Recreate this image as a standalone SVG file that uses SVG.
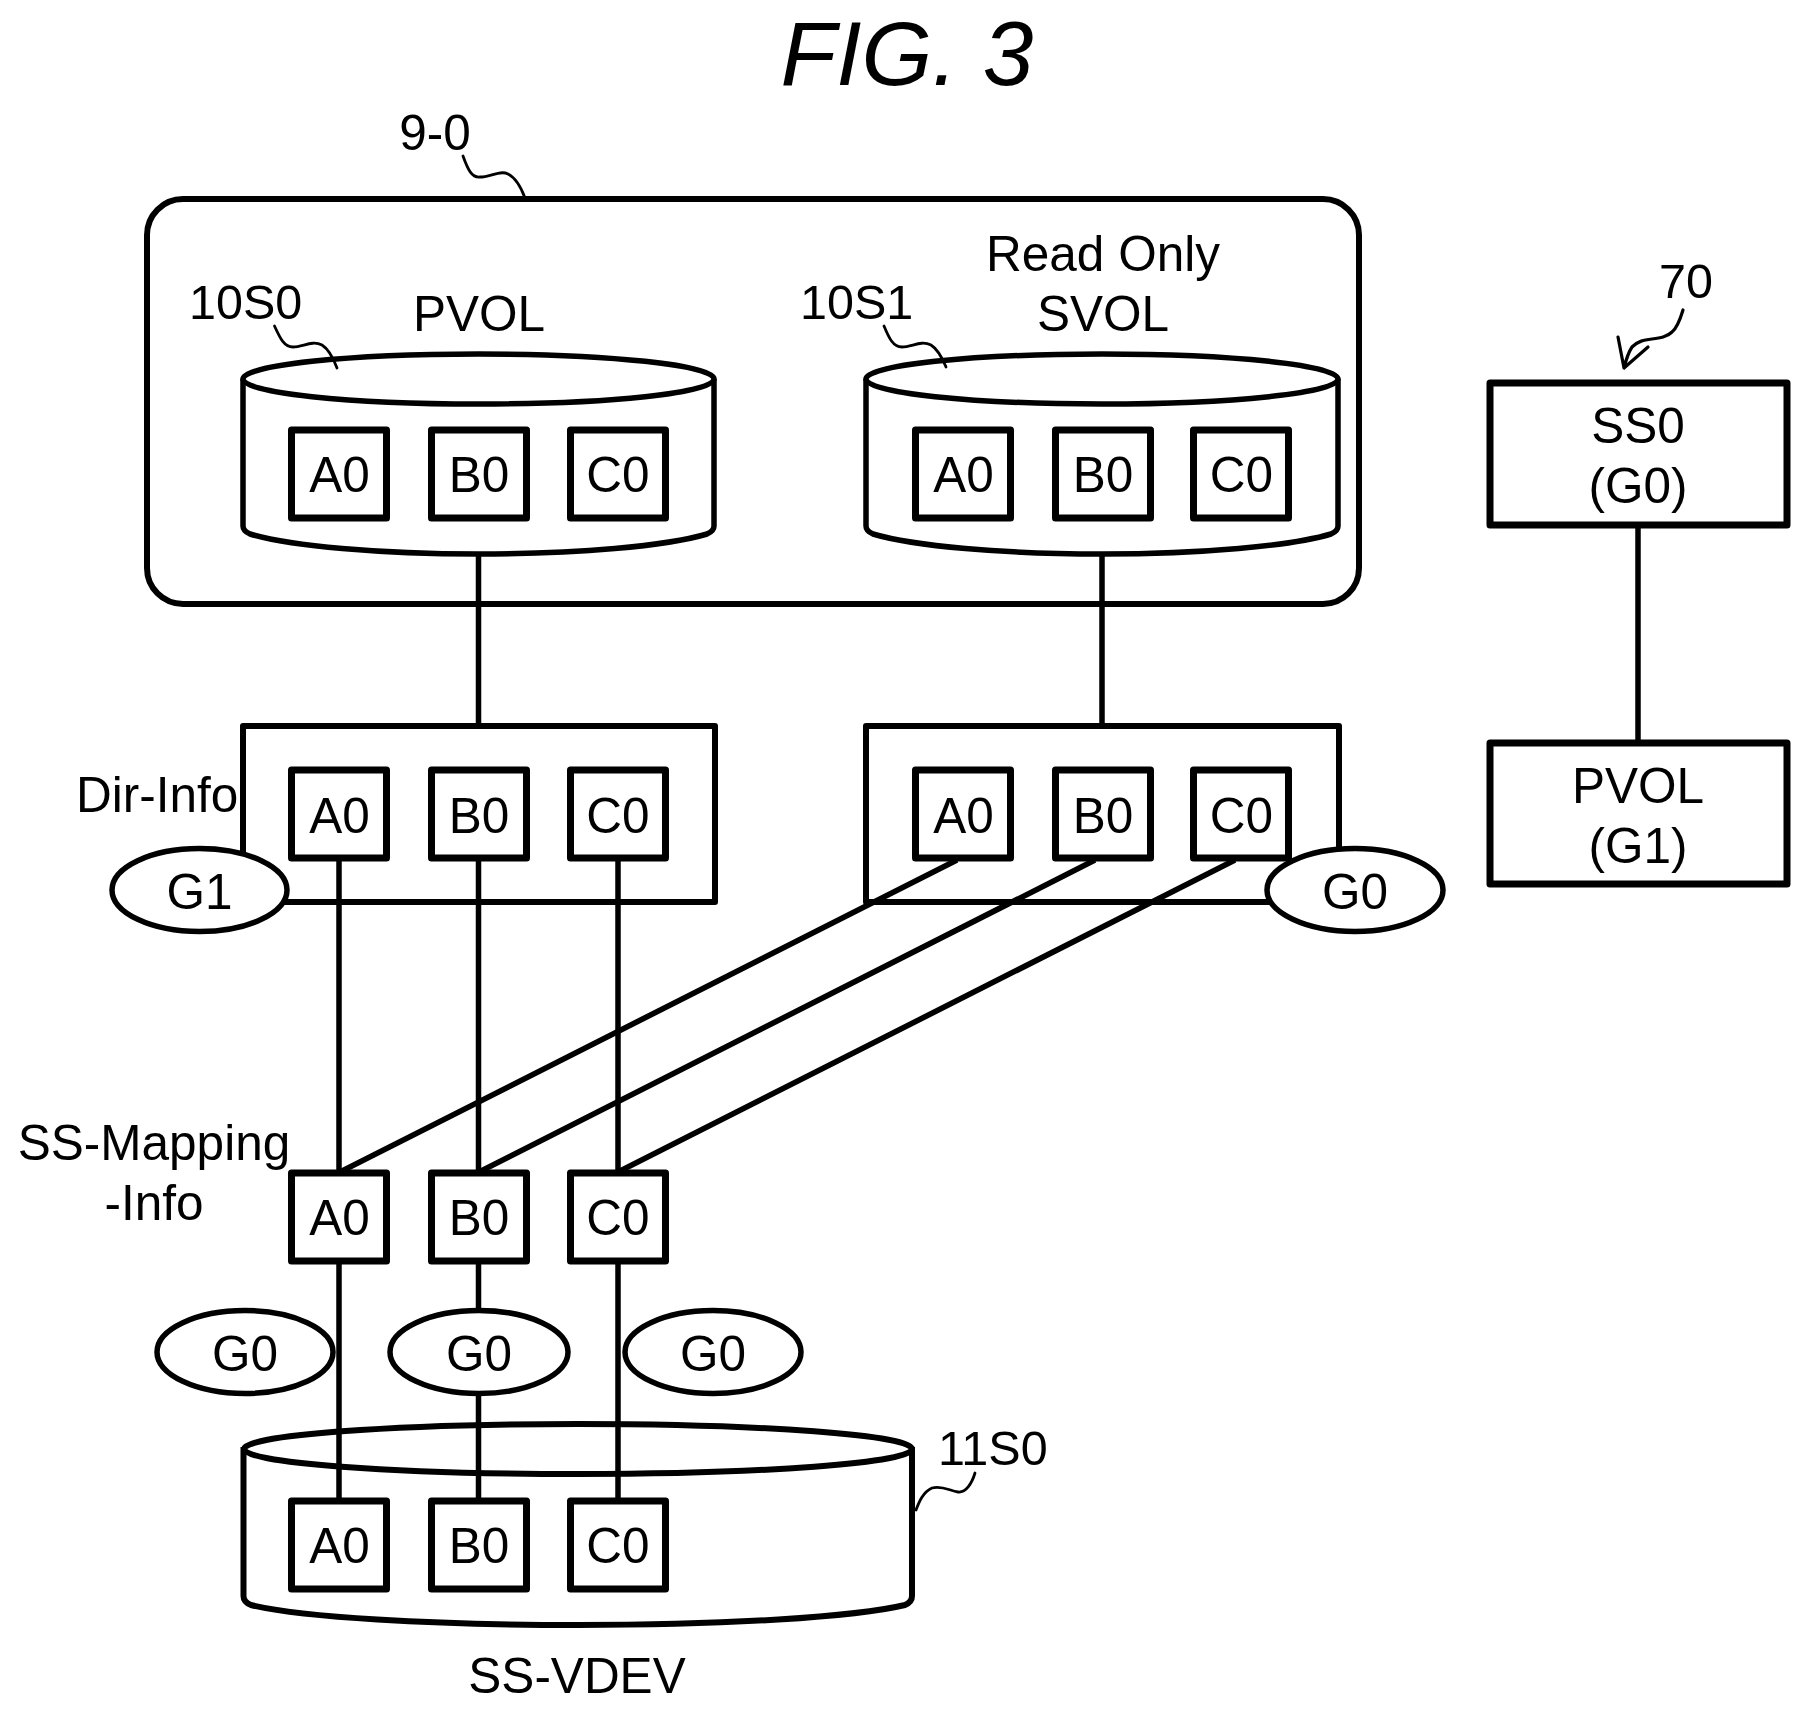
<svg xmlns="http://www.w3.org/2000/svg" width="1809" height="1715" viewBox="0 0 1809 1715">
<style>
text{font-family:"Liberation Sans",Arial,sans-serif;font-size:49.5px;fill:#000}
.m{text-anchor:middle}
.r{font-size:48.5px}
.s{fill:#fff;stroke:#000;stroke-width:5.5;stroke-linejoin:round}
.n{fill:none;stroke:#000;stroke-width:6;stroke-linejoin:round}
.b{fill:#fff;stroke:#000;stroke-width:7;stroke-linejoin:round}
.c{fill:none;stroke:#000;stroke-width:5.5}
.d{fill:none;stroke:#000;stroke-width:5.6}
.l{fill:none;stroke:#000;stroke-width:2.8;stroke-linecap:round;stroke-linejoin:round}
</style>
<rect width="1809" height="1715" fill="#fff"/>
<text id="title" x="907" y="85" class="m" style="font-size:91px;font-style:italic">FIG. 3</text>
<g id="vol-group-9-0"><rect class="n" x="147" y="199" width="1212" height="405" rx="36"/><text x="435" y="150" class="m">9-0</text></g>
<g id="cyl-10S0"><path class="s" d="M243,379V526Q243,531 250,534C290,546 380,554 478.5,554C577,554 667,546 707,534Q714,531 714,526V379"/><ellipse class="s" cx="478.5" cy="379" rx="235.5" ry="25"/><text x="479" y="331" class="m">PVOL</text></g>
<g id="cyl-10S1"><path class="s" d="M866,379V526Q866,531 873,534C913,546 1003,554 1102,554C1201,554 1291,546 1331,534Q1338,531 1338,526V379"/><ellipse class="s" cx="1102" cy="379" rx="236" ry="25"/><text x="1103" y="271" class="m">Read Only</text><text x="1103" y="331" class="m">SVOL</text></g>
<g id="dir-info-0"><rect class="n" x="243" y="726" width="472" height="176"/></g>
<g id="dir-info-1"><rect class="n" x="866" y="726" width="473" height="176"/></g>
<g id="cyl-11S0"><path class="n" d="M243.500,1447V1596Q243.500,1602 251,1605C300,1617 430,1625 578,1625C726,1625 855,1617 905,1605Q912,1602 912,1596V1447"/><ellipse class="n" cx="578" cy="1449" rx="334" ry="25"/><text x="577" y="1693" class="m">SS-VDEV</text></g>
<g id="connectors">
<path class="c" d="M478.500,554V726M1102,554V726M1638,524V743"/>
<path class="c" d="M339,860V1172M478.500,860V1172M618,860V1172"/>
<path class="d" d="M342,1171L957,860M481,1171L1095,860M620,1171L1235,860"/>
<path class="c" d="M339,1261V1500M478.500,1261V1500M618,1261V1500"/>
<path class="l" d="M463,156C468,170 472,178 480,177C490,177 500,170 508,174C516,178 522,190 525,198"/>
<path class="l" d="M274.500,326C280,338 284,347 293,347C303,347 312,340 322,345C330,350 334,360 337,368"/>
<path class="l" d="M884,326C889,338 893,347 902,347C912,347 921,340 931,345C939,350 943,360 946,367"/>
<path class="l" d="M975,1473C972,1483 966,1493 958,1492C950,1491 942,1485 932,1488C923,1492 919,1502 916,1510"/>
<path class="l" style="stroke-width:3.200" d="M1683,310C1680,320 1677,328 1672,332C1667,337 1660,338 1652,339C1644,340 1638,341 1632,347C1628,353 1626,360 1624,368M1618,337L1624,368L1648,347"/>
</g>
<g id="ref-labels">
<text x="189" y="319" class="r">10S0</text>
<text x="800" y="319" class="r">10S1</text>
<text x="938" y="1465" class="r">11S0</text>
<text x="1659" y="298" class="r">70</text>
<text x="76" y="812">Dir-Info</text>
<text x="154" y="1160" class="m">SS-Mapping</text>
<text x="154" y="1220" class="m">-Info</text>
</g>
<g id="p-a0"><rect class="b" x="291.500" y="430" width="95" height="88"/><text x="339.500" y="492" class="m">A0</text></g>
<g id="p-b0"><rect class="b" x="431.500" y="430" width="95" height="88"/><text x="479" y="492" class="m">B0</text></g>
<g id="p-c0"><rect class="b" x="570.500" y="430" width="95" height="88"/><text x="618" y="492" class="m">C0</text></g>
<g id="s-a0"><rect class="b" x="915.500" y="430" width="95" height="88"/><text x="963.500" y="492" class="m">A0</text></g>
<g id="s-b0"><rect class="b" x="1055.500" y="430" width="95" height="88"/><text x="1103" y="492" class="m">B0</text></g>
<g id="s-c0"><rect class="b" x="1193.500" y="430" width="95" height="88"/><text x="1241.500" y="492" class="m">C0</text></g>
<g id="dp-a0"><rect class="b" x="291.500" y="770" width="95" height="88"/><text x="339.500" y="832.500" class="m">A0</text></g>
<g id="dp-b0"><rect class="b" x="431.500" y="770" width="95" height="88"/><text x="479" y="832.500" class="m">B0</text></g>
<g id="dp-c0"><rect class="b" x="570.500" y="770" width="95" height="88"/><text x="618" y="832.500" class="m">C0</text></g>
<g id="ds-a0"><rect class="b" x="915.500" y="770" width="95" height="88"/><text x="963.500" y="832.500" class="m">A0</text></g>
<g id="ds-b0"><rect class="b" x="1055.500" y="770" width="95" height="88"/><text x="1103" y="832.500" class="m">B0</text></g>
<g id="ds-c0"><rect class="b" x="1193.500" y="770" width="95" height="88"/><text x="1241.500" y="832.500" class="m">C0</text></g>
<g id="m-a0"><rect class="b" x="291.500" y="1173" width="95" height="88"/><text x="339.500" y="1235" class="m">A0</text></g>
<g id="m-b0"><rect class="b" x="431.500" y="1173" width="95" height="88"/><text x="479" y="1235" class="m">B0</text></g>
<g id="m-c0"><rect class="b" x="570.500" y="1173" width="95" height="88"/><text x="618" y="1235" class="m">C0</text></g>
<g id="v-a0"><rect class="b" x="291.500" y="1501" width="95" height="88"/><text x="339.500" y="1563" class="m">A0</text></g>
<g id="v-b0"><rect class="b" x="431.500" y="1501" width="95" height="88"/><text x="479" y="1563" class="m">B0</text></g>
<g id="v-c0"><rect class="b" x="570.500" y="1501" width="95" height="88"/><text x="618" y="1563" class="m">C0</text></g>
<g id="tag-g1"><ellipse class="s" cx="199.500" cy="890" rx="87.500" ry="41.500"/><text x="199.500" y="909" class="m">G1</text></g>
<g id="tag-g0-right"><ellipse class="s" cx="1355" cy="890" rx="88" ry="41.500"/><text x="1355" y="909" class="m">G0</text></g>
<g id="tag-g0-a"><ellipse class="s" cx="245" cy="1352" rx="88" ry="41.500"/><text x="245" y="1371" class="m">G0</text></g>
<g id="tag-g0-b"><ellipse class="s" cx="479" cy="1352" rx="89" ry="41.500"/><text x="479" y="1371" class="m">G0</text></g>
<g id="tag-g0-c"><ellipse class="s" cx="713" cy="1352" rx="88" ry="41.500"/><text x="713" y="1371" class="m">G0</text></g>
<g id="ss0"><rect class="b" x="1490" y="383" width="297" height="142"/><text x="1638" y="443" class="m">SS0</text><text x="1638" y="503" class="m">(G0)</text></g>
<g id="pvol-g1"><rect class="b" x="1490" y="743" width="297" height="141"/><text x="1638" y="803" class="m">PVOL</text><text x="1638" y="863" class="m">(G1)</text></g>
</svg>
